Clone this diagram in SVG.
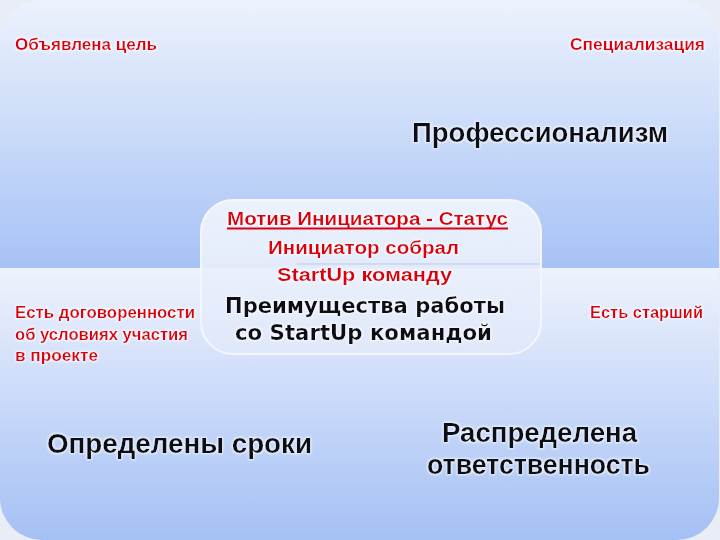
<svg xmlns="http://www.w3.org/2000/svg" width="720" height="540" viewBox="0 0 720 540">
  <defs>
    <linearGradient id="gTop" gradientUnits="userSpaceOnUse" x1="0" y1="0" x2="0" y2="268">
      <stop offset="0" stop-color="#edf2fd"/>
      <stop offset="1" stop-color="#a6c2f5"/>
    </linearGradient>
    <linearGradient id="gBot" gradientUnits="userSpaceOnUse" x1="0" y1="268" x2="0" y2="540">
      <stop offset="0" stop-color="#eef2fd"/>
      <stop offset="1" stop-color="#a4c0f4"/>
    </linearGradient>
    <linearGradient id="gMid" x1="0" y1="0" x2="0" y2="1">
      <stop offset="0" stop-color="#f1f5fd" stop-opacity="0.92"/>
      <stop offset="1" stop-color="#e0e8fa" stop-opacity="0.88"/>
    </linearGradient>
    <filter id="glow" x="-5%" y="-20%" width="110%" height="140%">
      <feMorphology in="SourceAlpha" operator="dilate" radius="0.8" result="d"/>
      <feGaussianBlur in="d" stdDeviation="0.8" result="b"/>
      <feFlood flood-color="#ffffff" flood-opacity="0.7"/>
      <feComposite in2="b" operator="in" result="w"/>
      <feMerge><feMergeNode in="w"/><feMergeNode in="SourceGraphic"/></feMerge>
    </filter>
  </defs>
  <style>
    .red { fill: #dc0010; font-family: "Liberation Sans", Arial, sans-serif; font-weight: bold; font-size: 17px; }
    .redc { fill: #dc0010; font-family: "Liberation Sans", Arial, sans-serif; font-weight: bold; font-size: 18px; text-anchor: middle; }
    .big { fill: #0c0c18; font-family: "Liberation Sans", Arial, sans-serif; font-weight: bold; font-size: 27px; }
    .mid { fill: #0c0c18; font-family: "DejaVu Sans", Verdana, sans-serif; font-weight: bold; font-size: 21px; text-anchor: middle; }
    text { filter: url(#glow); }
  </style>
  <rect x="0" y="0" width="720" height="540" fill="#e9edf6"/>

  <g id="quad-tl">
    <path d="M0,42 A42,42 0 0 1 42,0 H360 V268 H0 Z" fill="url(#gTop)"/>
    <text class="red" x="15" y="50" textLength="142" lengthAdjust="spacingAndGlyphs">Объявлена цель</text>
  </g>
  <g id="quad-tr">
    <path d="M360,0 H677 A42,42 0 0 1 719,42 V268 H360 Z" fill="url(#gTop)"/>
    <text class="red" x="570" y="50" textLength="135" lengthAdjust="spacingAndGlyphs">Специализация</text>
    <text class="big" x="412" y="142" textLength="256" lengthAdjust="spacingAndGlyphs">Профессионализм</text>
  </g>
  <g id="quad-bl">
    <path d="M0,268 H360 V540 H42 A42,42 0 0 1 0,498 Z" fill="url(#gBot)"/>
    <text class="red" x="15" y="318" textLength="180" lengthAdjust="spacingAndGlyphs">Есть договоренности</text>
    <text class="red" x="15" y="340" textLength="173" lengthAdjust="spacingAndGlyphs">об условиях участия</text>
    <text class="red" x="15" y="361" textLength="83" lengthAdjust="spacingAndGlyphs">в проекте</text>
    <text class="big" x="47" y="453" textLength="265" lengthAdjust="spacingAndGlyphs">Определены сроки</text>
  </g>
  <g id="quad-br">
    <path d="M360,268 H719 V498 A42,42 0 0 1 677,540 H360 Z" fill="url(#gBot)"/>
    <text class="red" x="590" y="318" textLength="113" lengthAdjust="spacingAndGlyphs">Есть старший</text>
    <text class="big" x="442" y="442" textLength="195" lengthAdjust="spacingAndGlyphs">Распределена</text>
    <text class="big" x="427" y="474" textLength="223" lengthAdjust="spacingAndGlyphs">ответственность</text>
  </g>

  <g id="center">
    <rect x="201" y="200" width="340" height="154" rx="32" ry="32" fill="url(#gMid)" stroke="#f4f7fe" stroke-width="2"/>
    <line x1="297" y1="264" x2="540" y2="264" stroke="#b9c9e8" stroke-width="1"/>
    <text class="redc" x="367.5" y="225" textLength="281" lengthAdjust="spacingAndGlyphs">Мотив Инициатора - Статус</text>
    <line x1="227" y1="228.5" x2="508" y2="228.5" stroke="#dc0010" stroke-width="1.8"/>
    <text class="redc" x="363.5" y="254" textLength="191" lengthAdjust="spacingAndGlyphs">Инициатор собрал</text>
    <text class="redc" x="364.5" y="281" textLength="175" lengthAdjust="spacingAndGlyphs">StartUp команду</text>
    <text class="mid" x="365" y="313" textLength="280" lengthAdjust="spacingAndGlyphs">Преимущества работы</text>
    <text class="mid" x="363.5" y="340" textLength="257" lengthAdjust="spacingAndGlyphs">со StartUp командой</text>
  </g>
  <g id="connectors"/>
</svg>
